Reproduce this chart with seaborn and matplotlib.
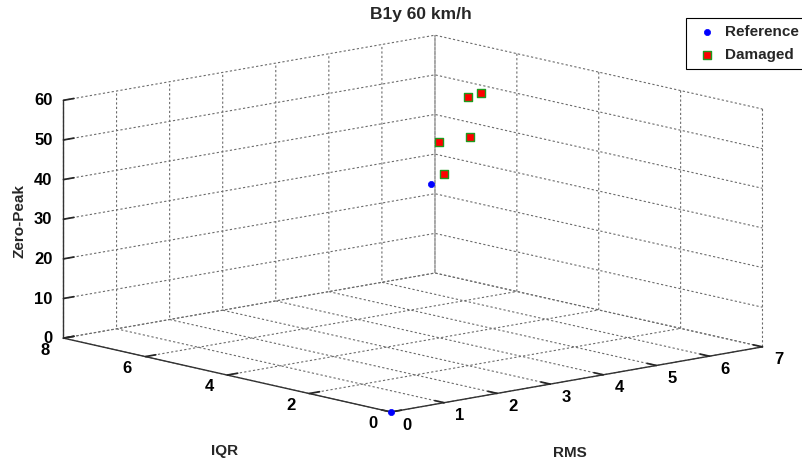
import matplotlib
matplotlib.use("Agg")
import matplotlib.pyplot as plt
import seaborn as sns
import pandas as pd
from mpl_toolkits.mplot3d import proj3d

# ---------------- data ----------------
ref_rms = [0.0, 6.0]
ref_iqr = [0.0, 6.8]
ref_zero_peak = [0.0, 27.6]

dam_rms = [6.2, 6.3, 6.5, 6.7, 6.4]
dam_iqr = [6.75, 7.0, 6.5, 6.8, 6.1]
dam_zero_peak = [29.8, 36.9, 39.1, 47.9, 51.3]

rms_ticks = [0, 1, 2, 3, 4, 5, 6, 7]
iqr_ticks = [0, 2, 4, 6, 8]
zp_ticks = [0, 10, 20, 30, 40, 50, 60]
series_names = ["Reference", "Damaged"]
title = "B1y 60 km/h"

df = pd.concat([
    pd.DataFrame({"RMS": ref_rms, "IQR": ref_iqr, "ZP": ref_zero_peak, "State": series_names[0]}),
    pd.DataFrame({"RMS": dam_rms, "IQR": dam_iqr, "ZP": dam_zero_peak, "State": series_names[1]}),
], ignore_index=True)

# ---------------- style ----------------
sns.set_theme(style="white")
plt.rcParams["font.family"] = ["Liberation Sans", "DejaVu Sans"]
plt.rcParams["font.weight"] = "bold"
plt.rcParams["axes.labelweight"] = "bold"

W, H = 803, 463
fig = plt.figure(figsize=(W / 100, H / 100), dpi=100)
fig.patch.set_facecolor("white")
side = 803
ax = fig.add_axes([0, (H - side) / 2 / H, 1, side / H], projection="3d", proj_type="ortho")
ax.set_facecolor("white")
ax.view_init(elev=11.47, azim=-131.4)
aspect = (1.0, 1.0, 0.49)
ax.set_box_aspect(aspect, zoom=1.0)

styles = {
    "Reference": dict(marker="o", s=20, color="#0000ff", edgecolors="#0000ff", linewidths=0.5),
    "Damaged": dict(marker="s", s=26, color="#ff0000", edgecolors="#1e9a1e", linewidths=1.0),
}
handles = []
for name in series_names:
    sub = df[df["State"] == name]
    h = ax.scatter(sub["RMS"], sub["IQR"], sub["ZP"], depthshade=False, label=name, **styles[name])
    handles.append(h)

ax.set_xlim(rms_ticks[0], rms_ticks[-1])
ax.set_ylim(iqr_ticks[0], iqr_ticks[-1])
ax.set_zlim(zp_ticks[0], zp_ticks[-1])
ax.set_xticks(rms_ticks)
ax.set_yticks(iqr_ticks)
ax.set_zticks(zp_ticks)
ax.grid(True)
# built-in tick labels hidden; MATLAB-style labels are drawn below in data space
for a in ("x", "y", "z"):
    ax.tick_params(axis=a, labelbottom=False, labelleft=False, labeltop=False, labelright=False)

for axis in (ax.xaxis, ax.yaxis, ax.zaxis):
    axis.set_pane_color((1, 1, 1, 1))
    axis._axinfo["grid"].update(color="0.42", linestyle=(0, (2, 2)), linewidth=0.8)
    axis._axinfo["tick"].update(inward_factor=0.0, outward_factor=0.35)
    axis._axinfo["axisline"].update(color="0.2", linewidth=1.0)
    axis.line.set_color("0.2")
    axis.line.set_linewidth(1.0)

tick_font = dict(fontsize=12, fontweight="bold", color="black")
for t in rms_ticks:
    ax.text(t, -0.39, -2.4, str(t), ha="center", va="center", **tick_font)
for t in iqr_ticks:
    ax.text(-0.34, t, -2.2, str(t), ha="center", va="center", **tick_font)
for t in zp_ticks:
    ax.text(0, iqr_ticks[-1] + 0.27, t - 0.8, str(t), ha="right", va="center", **tick_font)


def px(x, y, z):
    X, Y, _ = proj3d.proj_transform(x, y, z, ax.M)
    u, v = ax.transData.transform((X, Y))
    return u, H - v


# fit projected box to the reference layout
fig.canvas.draw()
u0, _v = px(0, iqr_ticks[-1], 0)
u1, _v = px(rms_ticks[-1], 0, 0)
zoom = 699.0 / (u1 - u0)
ax.set_box_aspect(aspect, zoom=zoom)
fig.canvas.draw()
u0, _v = px(0, iqr_ticks[-1], 0)
u1, _v = px(rms_ticks[-1], 0, 0)
zoom *= 699.0 / (u1 - u0)
ax.set_box_aspect(aspect, zoom=zoom)
fig.canvas.draw()
ox, oy = px(0, 0, 0)
pos = ax.get_position(original=True)
ax.set_position([pos.x0 + (391 - ox) / W, pos.y0 - (412 - oy) / H, pos.width, pos.height])
fig.canvas.draw()

# labels and title
fig.text(421 / W, 1 - 14 / H, title, ha="center", va="center", fontsize=12.5, fontweight="bold")
fig.text(570 / W, 1 - 453 / H, "RMS", ha="center", va="center", fontsize=11, fontweight="bold")
fig.text(225 / W, 1 - 451 / H, "IQR", ha="center", va="center", fontsize=11, fontweight="bold")
fig.text(20 / W, 1 - 221 / H, "Zero-Peak", ha="center", va="center", rotation=90, fontsize=11, fontweight="bold")

leg = ax.legend(handles=handles, labels=series_names, loc="upper left",
                bbox_to_anchor=(686 / W, 1 - 18 / H), bbox_transform=fig.transFigure,
                borderaxespad=0.0, frameon=True, fancybox=False, framealpha=1, edgecolor="black",
                handlelength=1.83, handletextpad=0.3, borderpad=0.45,
                labelspacing=0.6, scatterpoints=1, prop={"weight": "bold", "size": 11})
leg.get_frame().set_linewidth(0.8)

fig.savefig("out.png", dpi=100)
